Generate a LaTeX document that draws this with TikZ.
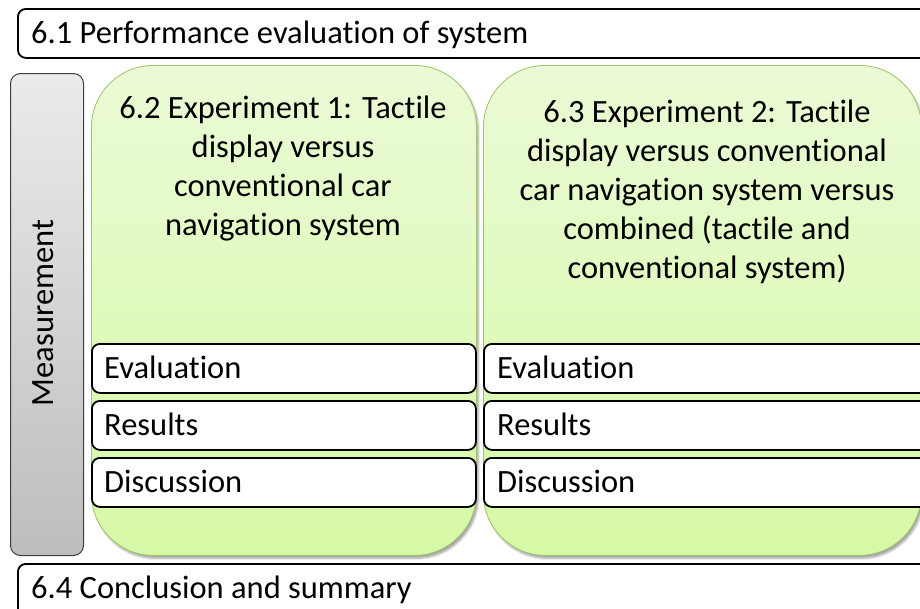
\documentclass[tikz,border=0pt]{standalone}
\usepackage{fontspec}
\setmainfont[Ligatures={NoCommon}]{Carlito}
\usetikzlibrary{shadows.blur}
\definecolor{gtop}{HTML}{EBFAD6}
\definecolor{gbot}{HTML}{D6F9A6}
\definecolor{gline}{HTML}{9FC365}
\definecolor{mtop}{HTML}{EBEBEB}
\definecolor{mbot}{HTML}{BDBDBD}
\definecolor{mline}{HTML}{3C3C3C}
\begin{document}
\begin{tikzpicture}[x=1pt,y=-1pt,
  font=\fontsize{32.5}{39}\selectfont,
  bar/.style={draw=black, line width=1.8pt, rounded corners=8pt, fill=white, anchor=north west, inner sep=0pt},
  sub/.style={draw=black, line width=1.8pt, rounded corners=8pt, fill=white, anchor=north west, inner sep=0pt, minimum height=49pt},
  exp/.style={draw=gline, line width=0.8pt, rounded corners=62pt, top color=gtop, bottom color=gbot, anchor=north west, inner sep=0pt, minimum height=490pt,
    blur shadow={shadow xshift=2pt, shadow yshift=-3pt, shadow blur steps=6, shadow opacity=35}},
  meas/.style={draw=mline, line width=1pt, rounded corners=10pt, top color=mtop, bottom color=mbot, anchor=north west, inner sep=0pt, minimum width=73pt, minimum height=482pt},
  lbl/.style={inner sep=0pt, anchor=base west},
  ttl/.style={inner sep=0pt, align=center, anchor=base},
]
\useasboundingbox (0,0) rectangle (920,608);
% top bar
\node[bar, minimum width=930pt, minimum height=49pt] (top) at (17,8) {};
\node[lbl] (toptxt) at (31,43) {6.1 Performance evaluation of system};
% measurement
\node[meas] (meas) at (10,73) {};
\node[inner sep=0pt, rotate=90, anchor=base] (meastxt) at (53,313) {Measurement};
% experiment boxes
\node[exp, minimum width=385pt] (exp1) at (91,65) {};
\node[exp, minimum width=438pt] (exp2) at (483,65) {};
\node[ttl] (t1) at (283,235) {6.2 Experiment 1: Tactile\\display versus\\conventional car\\navigation system};
\node[ttl] (t2) at (707,278) {6.3 Experiment 2: Tactile\\display versus conventional\\car navigation system versus\\combined (tactile and\\conventional system)};
% sub boxes left
\node[sub, minimum width=384pt] (e1) at (91,343) {};
\node[sub, minimum width=384pt] (r1) at (91,400) {};
\node[sub, minimum width=384pt] (d1) at (91,457) {};
\node[lbl] at (104,378) {Evaluation};
\node[lbl] at (104,435) {Results};
\node[lbl] at (104,492) {Discussion};
% sub boxes right
\node[sub, minimum width=460pt] (e2) at (483,343) {};
\node[sub, minimum width=460pt] (r2) at (483,400) {};
\node[sub, minimum width=460pt] (d2) at (483,457) {};
\node[lbl] at (497,378) {Evaluation};
\node[lbl] at (497,435) {Results};
\node[lbl] at (497,492) {Discussion};
% bottom bar
\node[bar, minimum width=930pt, minimum height=60pt] (bot) at (17,563) {};
\node[lbl] (bottxt) at (31,598) {6.4 Conclusion and summary};
\end{tikzpicture}
\end{document}
